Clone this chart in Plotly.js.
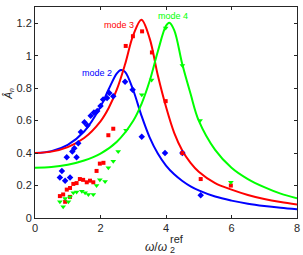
<!DOCTYPE html>
<html>
<head>
<meta charset="utf-8">
<script src="https://cdn.plot.ly/plotly-3.0.1.min.js"></script>
<style>
  html, body { margin: 0; padding: 0; background: #fff; }
  #chart { width: 303px; height: 255px; }
</style>
</head>
<body>
<div id="chart"></div>
<script>
// Fitted response curves (frequency ratio vs amplitude)
const mode2FitX = [0, 0.5, 1, 1.5, 2, 2.25, 2.5, 2.625, 2.75, 3, 3.25, 3.5, 3.75, 4, 4.25, 4.5, 4.75, 5, 5.5, 6, 6.5, 7, 7.5, 8];
const mode2FitY = [0.400, 0.412, 0.451, 0.533, 0.686, 0.793, 0.891, 0.912, 0.900, 0.787, 0.631, 0.497, 0.397, 0.323, 0.269, 0.228, 0.195, 0.170, 0.132, 0.107, 0.088, 0.074, 0.063, 0.054];

const mode3FitX = [0, 0.5, 1, 1.5, 2, 2.25, 2.5, 2.75, 3, 3.25, 3.5, 3.75, 4, 4.25, 4.5, 4.75, 5, 5.5, 6, 6.5, 7, 7.5, 8];
const mode3FitY = [0.400, 0.409, 0.437, 0.493, 0.596, 0.678, 0.792, 0.947, 1.126, 1.222, 1.107, 0.879, 0.685, 0.525, 0.415, 0.340, 0.285, 0.215, 0.175, 0.142, 0.117, 0.098, 0.083];

const mode4FitX = [0, 0.5, 1, 1.5, 2, 2.5, 3, 3.25, 3.5, 3.75, 4, 4.1, 4.25, 4.5, 4.75, 5, 5.5, 6, 6.5, 7, 7.5, 8];
const mode4FitY = [0.310, 0.314, 0.328, 0.354, 0.397, 0.470, 0.599, 0.702, 0.844, 1.026, 1.184, 1.203, 1.158, 0.945, 0.765, 0.600, 0.420, 0.310, 0.240, 0.190, 0.150, 0.122];

// Measured amplitudes
const mode2MeasX = [0.76, 0.82, 0.92, 1.07, 0.97, 1.27, 1.14, 1.20, 1.32, 1.40, 1.51, 1.60, 1.70, 1.80, 1.90, 2.00, 2.08, 2.20, 2.27, 2.39, 2.75, 2.98, 3.26, 3.97, 4.50, 5.06];
const mode2MeasY = [0.25, 0.29, 0.23, 0.25, 0.375, 0.375, 0.41, 0.43, 0.46, 0.53, 0.59, 0.57, 0.63, 0.65, 0.66, 0.69, 0.73, 0.74, 0.77, 0.75, 0.84, 0.79, 0.50, 0.40, 0.40, 0.14];

const mode3MeasX = [0.76, 0.86, 0.92, 0.97, 1.07, 1.07, 1.17, 1.27, 1.37, 1.47, 1.58, 1.68, 1.78, 1.88, 1.98, 2.09, 2.24, 2.39, 2.77, 2.99, 3.27, 3.57, 3.99, 4.50, 5.06, 5.98];
const mode3MeasY = [0.135, 0.145, 0.10, 0.175, 0.185, 0.13, 0.21, 0.215, 0.24, 0.235, 0.22, 0.23, 0.22, 0.29, 0.335, 0.34, 0.51, 0.55, 1.06, 1.12, 1.15, 1.02, 0.72, 0.40, 0.24, 0.20];

const mode4MeasX = [0.76, 0.86, 0.92, 1.02, 1.07, 1.17, 1.27, 1.43, 1.53, 1.63, 1.78, 1.88, 1.98, 2.14, 2.24, 2.39, 2.54, 2.78, 3.26, 3.56, 3.99, 4.50, 5.04, 5.98];
const mode4MeasY = [0.10, 0.07, 0.12, 0.10, 0.13, 0.155, 0.16, 0.165, 0.155, 0.145, 0.145, 0.20, 0.235, 0.225, 0.31, 0.35, 0.41, 0.54, 0.76, 0.85, 1.17, 0.94, 0.60, 0.22];

// Axis ticks
const xTickVals = [0, 2, 4, 6, 8];
const xTickText = ['0', '2', '4', '6', '8'];
const yTickVals = [0, 0.2, 0.4, 0.6, 0.8, 1, 1.2];
const yTickText = ['0', '0.2', '0.4', '0.6', '0.8', '1', '1.2'];

const modeLabels = ['mode 2', 'mode 3', 'mode 4'];
const modeLabelX = [1.9, 2.56, 4.2];
const modeLabelY = [0.894, 1.19, 1.245];

const BLUE = '#0000ff', RED = '#ff0000', GREEN = '#00ff00';
const colors = [BLUE, RED, GREEN];
const INK = '#262626';
const FONT = 'Liberation Sans, Arial, Helvetica, sans-serif';

function fit(x, y, c) {
  return { x: x, y: y, mode: 'lines', type: 'scatter',
           line: { color: c, width: 2, shape: 'spline', smoothing: 1 },
           hoverinfo: 'skip', showlegend: false };
}
function meas(x, y, c, sym, sz) {
  return { x: x, y: y, mode: 'markers', type: 'scatter',
           marker: { color: c, symbol: sym, size: sz, line: { width: 0 } },
           showlegend: false };
}

const data = [
  fit(mode2FitX, mode2FitY, BLUE),
  fit(mode3FitX, mode3FitY, RED),
  fit(mode4FitX, mode4FitY, GREEN),
  meas(mode2MeasX, mode2MeasY, BLUE, 'diamond', 5),
  meas(mode3MeasX, mode3MeasY, RED, 'square', 4),
  meas(mode4MeasX, mode4MeasY, GREEN, 'triangle-down', 5)
];

const annotations = modeLabels.map((t, i) => ({
  text: t, x: modeLabelX[i], y: modeLabelY[i], xref: 'x', yref: 'y',
  showarrow: false, xanchor: 'center', yanchor: 'middle',
  font: { family: FONT, size: 9, color: colors[i] }
}));

// x-axis label: omega / omega_2^ref
const xLabelAt = (169 - 35) / 262;
annotations.push(
  { text: '<i>ω</i>/<i>ω</i>', xref: 'paper', yref: 'paper', x: xLabelAt, y: 0,
    xanchor: 'right', yanchor: 'middle', yshift: -29, showarrow: false,
    font: { family: FONT, size: 12, color: INK } },
  { text: 'ref', xref: 'paper', yref: 'paper', x: xLabelAt, y: 0,
    xanchor: 'left', yanchor: 'middle', yshift: -21, xshift: -1, showarrow: false,
    font: { family: FONT, size: 11, color: INK } },
  { text: '2', xref: 'paper', yref: 'paper', x: xLabelAt, y: 0,
    xanchor: 'left', yanchor: 'middle', yshift: -32, xshift: -1, showarrow: false,
    font: { family: FONT, size: 9, color: INK } },
  { text: '<i>Â</i><sub><i>n</i></sub>', xref: 'paper', yref: 'paper',
    x: (9 - 35) / 262, y: (218.3 - 94) / 211, textangle: -90,
    xanchor: 'center', yanchor: 'middle', showarrow: false,
    font: { family: FONT, size: 10, color: INK } }
);

const axisCommon = {
  showgrid: false, zeroline: false, showline: true, mirror: 'ticks',
  linecolor: INK, linewidth: 1, ticks: 'inside', ticklen: 3, tickwidth: 1,
  tickcolor: INK, tickfont: { family: FONT, size: 11, color: INK }
};

const layout = {
  width: 303, height: 255,
  margin: { l: 35, r: 6, t: 7, b: 37, pad: 0 },
  paper_bgcolor: '#ffffff', plot_bgcolor: '#ffffff',
  xaxis: Object.assign({}, axisCommon, { range: [0, 8], tickvals: xTickVals, ticktext: xTickText }),
  yaxis: Object.assign({}, axisCommon, { range: [0, 1.3], tickvals: yTickVals, ticktext: yTickText }),
  annotations: annotations,
  showlegend: false
};

Plotly.newPlot('chart', data, layout, { staticPlot: true, displayModeBar: false });
</script>
</body>
</html>
